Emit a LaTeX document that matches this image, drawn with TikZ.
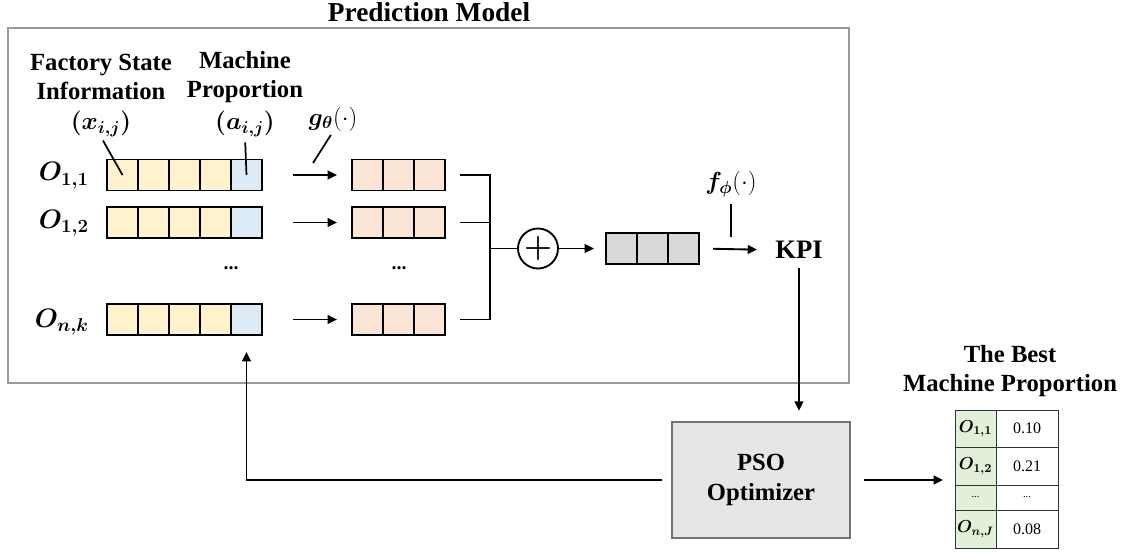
\documentclass[tikz,border=0pt]{standalone}
\usepackage{fix-cm}
\usepackage{fontspec}
\setmainfont{Liberation Serif}[BoldFont={Liberation Serif Bold}, ItalicFont={Liberation Serif Italic}]
\usepackage{bm}
\usetikzlibrary{arrows.meta}

\definecolor{featY}{HTML}{FFF2CC}
\definecolor{featB}{HTML}{DDEBF7}
\definecolor{embP}{HTML}{FBE5D6}
\definecolor{aggG}{HTML}{D9D9D9}
\definecolor{psoG}{HTML}{E6E6E6}
\definecolor{tabG}{HTML}{E2F0D9}
\definecolor{frameG}{HTML}{9A9A9A}

\newcommand{\fs}[2]{\fontsize{#1}{#2}\selectfont}

\begin{document}
\begin{tikzpicture}[x=0.75pt,y=-0.75pt,
  cell/.style={draw=black, line width=0.9pt, minimum width=23.25pt, minimum height=23.25pt,
               inner sep=0pt, outer sep=0pt},
  head/.style={font=\rmfamily\bfseries\fs{18.5}{21.75}, align=center, inner sep=0pt},
  mathlbl/.style={font=\fs{18.5}{22}, inner sep=0pt},
  rowlbl/.style={font=\fs{20}{22}, inner sep=0pt, anchor=base east},
  link/.style={line width=1.4pt, black},
  arr/.style={link, -{Triangle[length=7pt,width=6.5pt]}},
  lead/.style={line width=1.3pt, black},
  tcell/.style={draw=black!80, line width=0.6pt, inner sep=0pt, outer sep=0pt},
]
\useasboundingbox (0,0) rectangle (1126,552);

% prediction model frame and title
\draw[frameG, line width=1.1pt] (8,28) rectangle (849,383);
\node[head, font=\rmfamily\bfseries\fs{20.5}{24}] (title) at (429,12) {Prediction Model};

% column headings
\node[head] (fsi) at (101,77) {Factory State\\Information};
\node[head] (mp) at (245,77) {Machine\\Proportion};
\node[mathlbl] (xij) at (101,124) {$\bm{(x_{i,j})}$};
\node[mathlbl] (aij) at (245,124) {$\bm{(a_{i,j})}$};
\node[mathlbl] (g) at (333,119) {$\bm{g_{\theta}}(\cdot)$};

% input vectors, embeddings and the arrows between them
\foreach \r/\y in {1/175, 2/222.5, 3/319.5} {
  \foreach \c in {1,...,4}
    \node[cell, fill=featY] (x\r\c) at ({122.5+31*(\c-1)}, \y) {};
  \node[cell, fill=featB] (x\r5) at (246.5, \y) {};
  \foreach \c in {1,2,3}
    \node[cell, fill=embP] (h\r\c) at ({367.5+31*(\c-1)}, \y) {};
  \draw[arr, shorten <=23.25pt, shorten >=11.25pt] (x\r5.east) -- (h\r1.west);
}

% row labels
\node[rowlbl] (o11) at (89,181) {$\bm{O}_{\bm{1,1}}$};
\node[rowlbl] (o12) at (89,228.5) {$\bm{O}_{\bm{1,2}}$};
\node[rowlbl] (onk) at (89,327) {$\bm{O}_{\bm{n,k}}$};

% ellipses between rows
\node[font=\rmfamily\bfseries\fs{15}{18}, inner sep=0pt] (d1) at (231,268) {...};
\node[font=\rmfamily\bfseries\fs{15}{18}, inner sep=0pt] (d2) at (399,268) {...};

% leader lines
\coordinate (gtip) at (313,163);
\draw[lead, shorten <=3pt] (xij.south) -- (x11.center);
\draw[lead, shorten <=4pt] (aij.south) -- (x15.center);
\draw[lead, shorten <=3pt] (g.south) -- (gtip);

% aggregation
\coordinate (jx) at (490,248.5);
\node[circle, draw=black, line width=1.4pt, minimum size=30pt, inner sep=0pt,
      font=\fs{24}{26}] (plus) at (538,248.5) {$\bm{+}$};
\draw[link] ([xshift=11pt]h13.east) -- (h13.east -| jx) -- (h33.east -| jx)
            -- ([xshift=11pt]h33.east);
\draw[link] ([xshift=11pt]h23.east) -- (h23.east -| jx);
\draw[link] (jx) -- (plus.west);

\foreach \c in {1,2,3}
  \node[cell, fill=aggG] (s\c) at ({621.5+31*(\c-1)}, 248.5) {};
\draw[arr, shorten >=9pt] (plus.east) -- (s1.west);

% KPI head
\node[font=\rmfamily\bfseries\fs{20}{24}, inner sep=0pt] (kpi) at (799,250) {KPI};
\node[mathlbl] (f) at (731,184) {$\bm{f_{\phi}}(\cdot)$};
\coordinate (ftip) at (731,237);
\draw[arr, shorten <=10.5pt, shorten >=13.5pt] (s3.east) -- (kpi.west);
\draw[lead, shorten <=5pt] (f.south) -- (ftip);

% optimizer
\node[draw=black!55, line width=0.8pt, fill=psoG, minimum width=133.5pt, minimum height=87pt,
      font=\rmfamily\bfseries\fs{18.5}{23}, align=center, inner sep=0pt] (pso) at (761,480)
      {PSO\\Optimizer};
\draw[arr, shorten <=7pt, shorten >=8pt] (kpi.south) -- (kpi.south |- pso.north);
\draw[arr, shorten >=12.75pt] ([xshift=-6.75pt]pso.west) -| (x35.south);

% result table
\node[head] (best) at (1010,371) {The Best\\Machine Proportion};
\foreach \r/\y/\h/\name/\val in {1/428.75/28.125/{\bm{O}_{\bm{1,1}}}/0.10,
                                 2/466.25/28.125/{\bm{O}_{\bm{1,2}}}/0.21,
                                 4/529/28.5/{\bm{O}_{\bm{n,J}}}/0.08} {
  \node[tcell, fill=tabG, minimum width=30.75pt, minimum height=\h pt,
        font=\fs{13}{15}] (t\r a) at (975.5,\y) {$\name$};
  \node[tcell, minimum width=46.5pt, minimum height=\h pt,
        font=\rmfamily\fs{12}{14}] (t\r b) at (1027,\y) {\val};
}
\node[tcell, fill=tabG, minimum width=30.75pt, minimum height=18.75pt,
      font=\rmfamily\fs{8}{10}] (t3a) at (975.5,497.5) {...};
\node[tcell, minimum width=46.5pt, minimum height=18.75pt,
      font=\rmfamily\fs{8}{10}] (t3b) at (1027,497.5) {...};

\draw[arr, shorten <=9.75pt, shorten >=9pt] (pso.east) -- (pso.east -| t1a.west);
\end{tikzpicture}
\end{document}
